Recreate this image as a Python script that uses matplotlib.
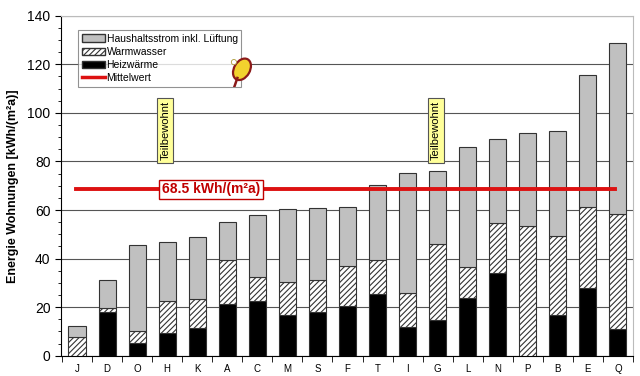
import matplotlib
matplotlib.use('Agg')
import matplotlib.pyplot as plt
from matplotlib.patches import Patch, Ellipse
from matplotlib.lines import Line2D
from matplotlib.ticker import MultipleLocator
import numpy as np

plt.rcParams['font.family'] = ['Liberation Sans', 'DejaVu Sans']
plt.rcParams['hatch.linewidth'] = 0.8

# Wohnungen (Reihenfolge wie im Diagramm)
wohnungen = ['J', 'D', 'O', 'H', 'K', 'A', 'C', 'M', 'S', 'F',
             'T', 'I', 'G', 'L', 'N', 'P', 'B', 'E', 'Q']

# Gesamtwerte je Schicht (kumuliert, kWh/(m²a))
heizwaerme = [0.0, 17.8, 5.1, 9.3, 11.3, 21.4, 22.5, 16.8, 17.9, 20.5,
              25.6, 12.0, 14.8, 23.6, 34.0, 0.0, 16.8, 27.7, 11.0]
bis_warmwasser = [7.6, 19.8, 10.3, 22.5, 23.3, 39.5, 32.4, 30.3, 31.2, 36.9,
                  39.4, 25.8, 46.2, 36.4, 54.7, 53.3, 49.5, 61.2, 58.4]
gesamt = [12.4, 31.2, 45.5, 46.7, 48.8, 55.2, 58.0, 60.3, 60.9, 61.3,
          70.2, 75.1, 76.2, 86.0, 89.4, 91.9, 92.7, 115.7, 128.8]

mittelwert = 68.5
teilbewohnt = ['H', 'G']

warmwasser = np.array(bis_warmwasser) - np.array(heizwaerme)
haushalt = np.array(gesamt) - np.array(bis_warmwasser)

fig = plt.figure(figsize=(6.4, 3.76), dpi=100)
ax = fig.add_axes([0.095, 0.054, 0.894, 0.904])

x = np.arange(len(wohnungen))
w = 0.57
edge = '#333333'

ax.bar(x, heizwaerme, w, color='black', edgecolor=edge, linewidth=0.8, zorder=3)
ax.bar(x, warmwasser, w, bottom=heizwaerme, color='white', edgecolor=edge,
       hatch='//////', linewidth=0.8, zorder=3)
ax.bar(x, haushalt, w, bottom=bis_warmwasser, color='#c0c0c0', edgecolor=edge,
       linewidth=0.8, zorder=3)

# Mittelwert
ax.plot([-0.05, 17.9], [mittelwert, mittelwert], color='#dd1111', lw=2.8, zorder=4)
ax.text(4.46, mittelwert, f'{mittelwert} kWh/(m²a)', color='#c00000', fontsize=10,
        fontweight='bold', ha='center', va='center', zorder=5,
        bbox=dict(boxstyle='square,pad=0.2', fc='white', ec='#c00000', lw=1))

# Teilbewohnt-Markierungen
for name in teilbewohnt:
    i = wohnungen.index(name)
    ax.text(i - 0.06, 80.5, 'Teilbewohnt', rotation=90, fontsize=8, ha='center',
            va='bottom', zorder=5,
            bbox=dict(boxstyle='square,pad=0.28', fc='#ffff99', ec='#555555', lw=0.8))

ax.set_xlim(-0.54, 18.49)
ax.set_ylim(0, 140)
ax.set_xticks(x)
ax.set_xticklabels(wohnungen, fontsize=7)
ax.set_xticks(np.arange(-0.5, 18.6, 1), minor=True)
ax.tick_params(axis='x', which='major', length=0, pad=6)
ax.tick_params(axis='x', which='minor', length=4, direction='out')
ax.yaxis.set_minor_locator(MultipleLocator(5))
ax.set_yticks(np.arange(0, 141, 20))
ax.tick_params(axis='y', which='major', labelsize=10, length=4)
ax.tick_params(axis='y', which='minor', length=2.5)
ax.set_ylabel('Energie Wohnungen [kWh/(m²a)]', fontsize=9, fontweight='bold', labelpad=6)

ax.grid(axis='y', color='#555555', lw=0.8, zorder=0)
ax.spines['top'].set_color('#bbbbbb')
ax.spines['right'].set_color('#bbbbbb')

handles = [Patch(fc='#c0c0c0', ec=edge, label='Haushaltsstrom inkl. Lüftung'),
           Patch(fc='white', ec=edge, hatch='//////', label='Warmwasser'),
           Patch(fc='black', ec=edge, label='Heizwärme'),
           Line2D([0], [0], color='#dd1111', lw=2.5, label='Mittelwert')]
leg = ax.legend(handles=handles, loc='upper left', bbox_to_anchor=(0.03, 0.958),
                fontsize=7.5, frameon=True, fancybox=False, edgecolor='#777777',
                handlelength=2.2, handleheight=0.7, handletextpad=0.2,
                labelspacing=0.3, borderpad=0.35, borderaxespad=0)
leg.get_frame().set_linewidth(0.8)
leg.set_zorder(6)

# Logo (vereinfacht) in eigener Achse mit gleichem Seitenverhältnis
lax = fig.add_axes([0.352, 0.768, 0.045, 0.08])
lax.set_xlim(0, 1)
lax.set_ylim(0, 1)
lax.set_aspect('equal', adjustable='datalim')
lax.axis('off')
lax.add_patch(Ellipse((0.58, 0.6), 0.55, 0.8, angle=-30, fc='#f2d22e', ec='#8b1a1a', lw=1.6))
lax.plot([0.42, 0.3], [0.3, -0.05], color='#8b1a1a', lw=1.8)
lax.add_patch(Ellipse((0.3, 0.85), 0.18, 0.18, fc='white', ec='#aa9933', lw=0.6))

fig.savefig('out.png', dpi=100)
